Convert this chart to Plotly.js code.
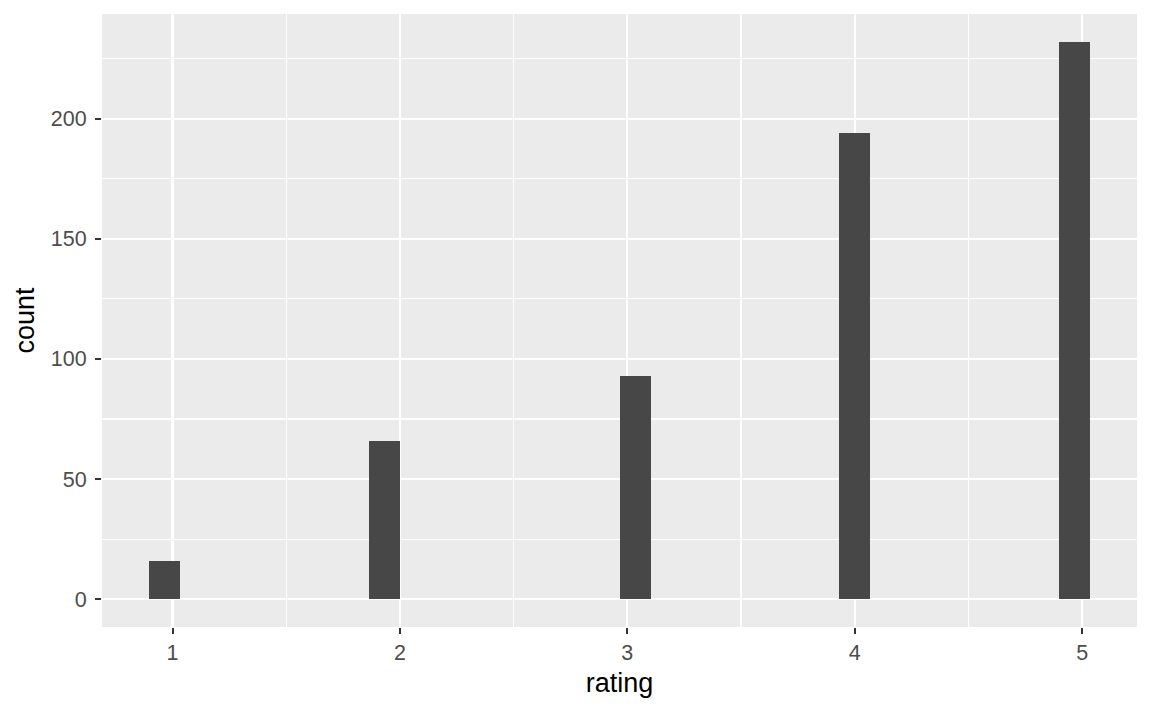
<!DOCTYPE html>
<html>
<head>
<meta charset="utf-8">
<script src="https://cdn.plot.ly/plotly-3.0.1.min.js"></script>
<style>html,body{margin:0;padding:0;background:#fff;}</style>
</head>
<body>
<div id="chart" style="width:1152px;height:711px;"></div>
<script>
// Data: rating values and their counts (histogram, 30 bins as in ggplot default)
const ratings = [1, 2, 3, 4, 5];
const counts = [16, 66, 93, 194, 232];
const nBins = 30;
const tickVals = [1, 2, 3, 4, 5];
const tickText = ['1', '2', '3', '4', '5'];
const yTickVals = [0, 50, 100, 150, 200];

// ggplot2-style binning (boundary = width/2, closed = right)
const xmin = Math.min(...ratings), xmax = Math.max(...ratings);
const bw = (xmax - xmin) / (nBins - 1);
const boundary = bw / 2;
const shift = Math.floor((xmin - boundary) / bw);
const origin = boundary + shift * bw;
const eps = 1e-7;
const centers = ratings.map(v => {
  const k = Math.ceil((v - origin) / bw - eps) - 1;
  return origin + (k + 0.5) * bw;
});
const binLo = origin, binHi = origin + nBins * bw;
const xpad = (binHi - binLo) * 0.05;
const ymaxv = Math.max(...counts);
const ypad = ymaxv * 0.05;

const trace = {
  type: 'bar',
  x: centers,
  y: counts,
  width: bw,
  marker: {color: '#474747', line: {width: 0}},
  hoverinfo: 'x+y'
};

const layout = {
  width: 1152, height: 711,
  margin: {l: 102, r: 15, t: 14, b: 84},
  paper_bgcolor: '#ffffff',
  plot_bgcolor: '#EBEBEB',
  showlegend: false,
  bargap: 0,
  font: {family: 'Liberation Sans, Arial, sans-serif'},
  xaxis: {
    range: [binLo - xpad, binHi + xpad],
    tickvals: tickVals, ticktext: tickText,
    ticks: 'outside', ticklen: 6, tickwidth: 2, tickcolor: '#333333',
    tickfont: {size: 21.5, color: '#4D4D4D'},
    showgrid: true, gridcolor: '#ffffff', gridwidth: 2.2,
    minor: {tickvals: [1.5, 2.5, 3.5, 4.5], showgrid: true, gridcolor: '#ffffff', gridwidth: 1.1, ticks: ''},
    zeroline: false, showline: false,
    title: {text: 'rating', font: {size: 27, color: '#000000'}, standoff: 9}
  },
  yaxis: {
    range: [-ypad, ymaxv + ypad],
    tickvals: yTickVals,
    ticks: 'outside', ticklen: 6, tickwidth: 2, tickcolor: '#333333',
    tickfont: {size: 21.5, color: '#4D4D4D'},
    ticklabelstandoff: 4,
    showgrid: true, gridcolor: '#ffffff', gridwidth: 2.2,
    minor: {tickvals: [25, 75, 125, 175, 225], showgrid: true, gridcolor: '#ffffff', gridwidth: 1.1, ticks: ''},
    zeroline: false, showline: false,
    title: {text: 'count', font: {size: 27, color: '#000000'}, standoff: 8}
  }
};

Plotly.newPlot('chart', [trace], layout, {displayModeBar: false, staticPlot: true});
</script>
</body>
</html>
